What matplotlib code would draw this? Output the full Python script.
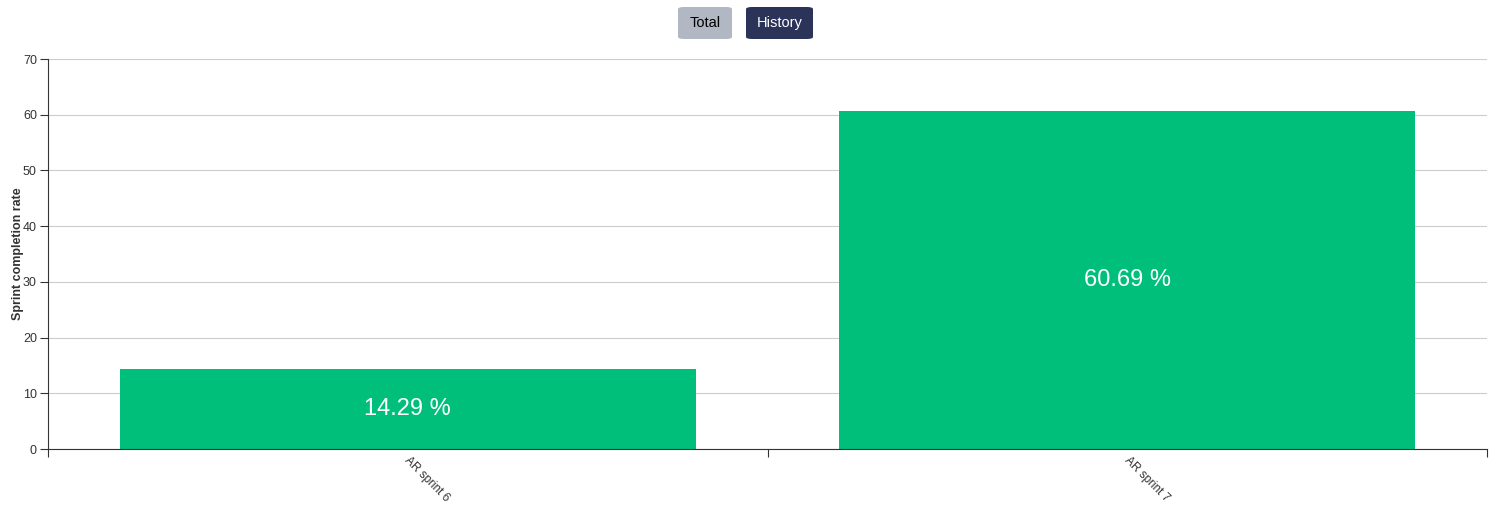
import numpy as np
from matplotlib import pyplot as plt
from matplotlib.patches import FancyBboxPatch

plt.rcParams['font.family'] = ['Liberation Sans', 'DejaVu Sans']

sprints = ["AR sprint 6", "AR sprint 7"]
completion = [14.29, 60.69]
yTicks = [0, 10, 20, 30, 40, 50, 60, 70]

W, H = 1505, 516
fig = plt.figure(figsize=(W / 100, H / 100), dpi=100)
ax = fig.add_axes([48 / W, 1 - 449 / H, (1487 - 48) / W, (449 - 59) / H])

x = np.arange(len(sprints))
bars = ax.bar(x, completion, width=0.8, color="#00BF7A", zorder=2)

for b, v in zip(bars, completion):          # value label in the middle of each bar
    ax.text(b.get_x() + b.get_width() / 2, v / 2, "{0:.2f} %".format(v),
            ha="center", va="center", color="white", fontsize=17, zorder=3)

ax.set_xlim(-0.5, len(sprints) - 0.5)
ax.set_ylim(0, 70)
ax.set_yticks(yTicks)
ax.set_xticks(np.arange(len(sprints) + 1) - 0.5)
ax.set_xticklabels([])
ax.tick_params(axis="both", direction="out", length=6, width=0.8, colors="#333333",
               labelsize=9, labelcolor="#333333", pad=2)

for xi, name in zip(x, sprints):            # rotated category labels
    ax.text(xi + 0.004, -1.0, name, rotation=-45, rotation_mode="anchor", ha="left", va="top",
            fontsize=8.5, color="#333333")

ax.grid(axis="y", color="#cccccc", linewidth=0.8, zorder=0)
ax.spines["top"].set_visible(False)
ax.spines["right"].set_visible(False)
ax.spines["left"].set_color("#333333")
ax.spines["bottom"].set_color("#333333")
ax.set_ylabel("Sprint completion rate", fontsize=9, fontweight="bold", color="#333333")
ax.yaxis.set_label_coords(-24 / (1487 - 48), 0.5)

# the two toggle buttons above the chart
buttons = [("Total", 678, 732, "#B1B7C3", "black"), ("History", 746, 813, "#2C3359", "white")]
for label, x0, x1, bg, fg in buttons:
    fig.patches.append(FancyBboxPatch((x0 / W, 1 - 39 / H), (x1 - x0) / W, 32 / H,
                                      boxstyle="round,pad=0,rounding_size=0.004",
                                      transform=fig.transFigure, facecolor=bg, edgecolor="none"))
    fig.text((x0 + x1) / 2 / W, 1 - 23 / H, label, ha="center", va="center", color=fg, fontsize=10.5)

fig.savefig("out.png", dpi=100)
